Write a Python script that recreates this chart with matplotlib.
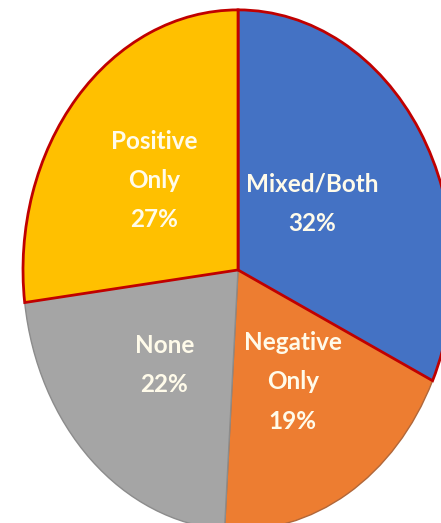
import matplotlib
matplotlib.use("Agg")
import matplotlib.pyplot as plt
import numpy as np

categories = ["Mixed/Both", "Negative\nOnly", "None", "Positive\nOnly"]
values = [32, 19, 22, 27]
colors = ["#4472C4", "#ED7D31", "#A5A5A5", "#FFC000"]
edge_colors = ["#C00000", "#B0673A", "#8C8C8C", "#C00000"]

fig = plt.figure(figsize=(4.41, 5.23), dpi=100)
ax = fig.add_axes([0, 0, 1, 1])
wedges, _ = ax.pie(values, colors=colors, startangle=90, counterclock=False,
                   radius=1, center=(0, 0), frame=False)
for w, ec, v in zip(wedges, edge_colors, values):
    w.set_edgecolor(ec)
    if ec == "#C00000":
        w.set_linewidth(2.0)
        w.set_zorder(3)
    else:
        w.set_linewidth(1.0)
        w.set_zorder(2)

label_r = [0.43, 0.50, 0.50, 0.52]
label_dth = [4, 0, 0, 0]
for w, cat, v, r, dth in zip(wedges, categories, values, label_r, label_dth):
    th = np.deg2rad((w.theta1 + w.theta2) / 2 + dth)
    ax.text(r * np.cos(th), r * np.sin(th), f"{cat}\n{v}%", ha="center", va="center",
            color="#FFFBEA", fontsize=17.5, fontweight="bold", family="Lato",
            linespacing=1.85, zorder=5)

ax.set_aspect("auto")
ax.set_xlim(-1.107, 0.944)
ax.set_ylim(-0.973, 1.038)
ax.axis("off")
fig.savefig("out.png", dpi=100)
